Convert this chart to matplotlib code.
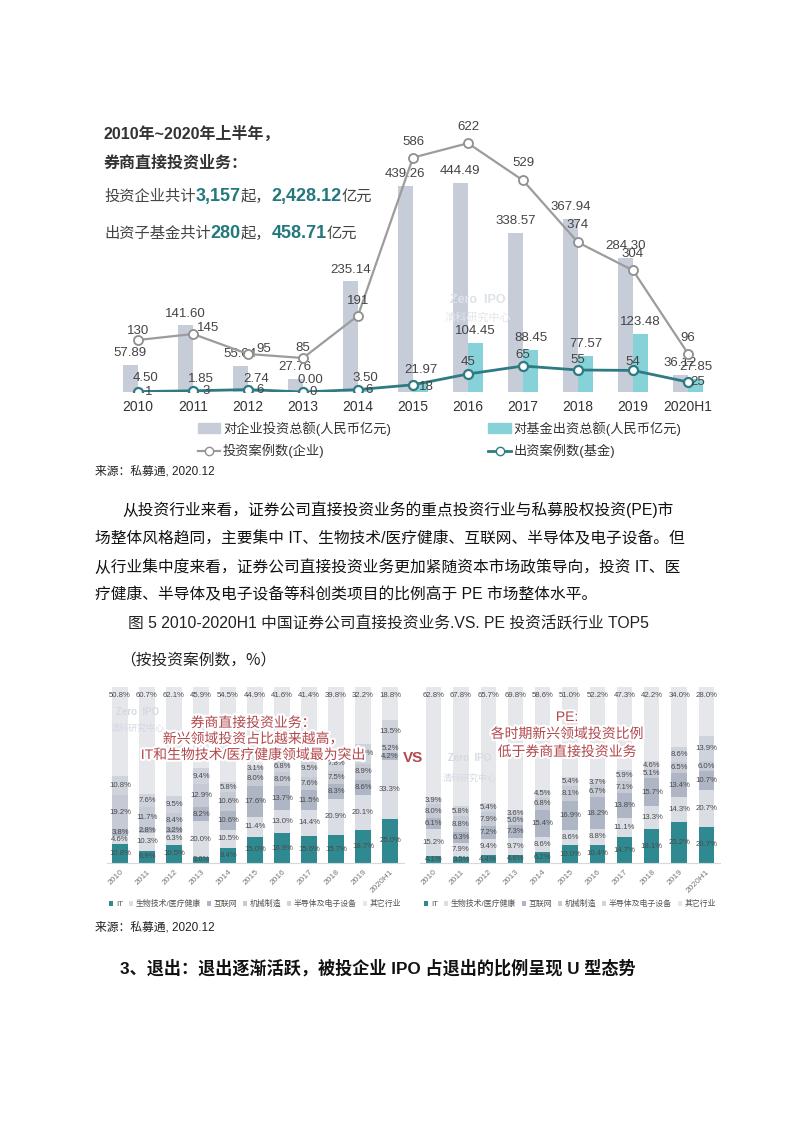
import numpy as np
import matplotlib.pyplot as plt
import matplotlib.patheffects as pe
from matplotlib.lines import Line2D
from matplotlib.patches import Patch

plt.rcParams['font.family'] = ['Liberation Sans', 'Noto Sans CJK SC', 'DejaVu Sans']

# top chart: broker direct investment, 2010 - 2020H1
years = ['2010', '2011', '2012', '2013', '2014', '2015', '2016', '2017', '2018', '2019', '2020H1']
corp_amount = [57.89, 141.60, 55.04, 27.76, 235.14, 439.26, 444.49, 338.57, 367.94, 284.30, 36.12]
fund_amount = [4.50, 1.85, 2.74, 0.00, 3.50, 21.97, 104.45, 88.45, 77.57, 123.48, 27.85]
corp_cases = [130, 145, 95, 85, 191, 586, 622, 529, 374, 304, 96]
fund_cases = [1, 3, 6, 0, 6, 18, 45, 65, 55, 54, 25]

# bottom charts: share of cases by industry (%), rows follow `industries`
industries = ['IT', '生物技术/医疗健康', '互联网', '机械制造', '半导体及电子设备', '其它行业']
broker_share = [
    [10.8, 6.9, 10.5, 3.6, 8.4, 15.0, 16.9, 15.6, 15.7, 18.7, 25.0],
    [4.6, 10.3, 6.3, 20.0, 10.5, 11.4, 13.0, 14.4, 20.9, 20.1, 33.3],
    [3.8, 2.8, 3.2, 8.2, 10.6, 17.6, 13.7, 11.5, 8.3, 8.6, 4.2],
    [19.2, 11.7, 8.4, 12.9, 10.6, 8.0, 8.0, 7.6, 7.5, 8.9, 5.2],
    [10.8, 7.6, 9.5, 9.4, 5.8, 3.1, 6.8, 9.5, 7.8, 11.5, 13.5],
    [50.8, 60.7, 62.1, 45.9, 54.5, 44.9, 41.6, 41.4, 39.8, 32.2, 18.8],
]
pe_share = [
    [4.1, 3.5, 4.4, 4.6, 6.2, 10.0, 10.4, 14.7, 19.1, 23.2, 20.7],
    [15.2, 7.9, 9.4, 9.7, 8.6, 8.6, 8.8, 11.1, 13.3, 14.3, 20.7],
    [6.1, 6.3, 7.2, 7.3, 15.4, 16.9, 18.2, 13.8, 15.7, 13.4, 10.7],
    [8.0, 8.8, 7.9, 5.0, 6.8, 8.1, 6.7, 7.1, 5.1, 6.5, 6.0],
    [3.9, 5.8, 5.4, 3.6, 4.5, 5.4, 3.7, 5.9, 4.6, 8.6, 13.9],
    [62.8, 67.8, 65.7, 69.8, 58.6, 51.0, 52.2, 47.3, 42.2, 34.0, 28.0],
]

W, H = 793, 1122
def fx(px): return px / W
def fy(py): return 1 - py / H

fig = plt.figure(figsize=(W / 100, H / 100), dpi=100)
fig.patch.set_facecolor('white')
renderer = fig.canvas.get_renderer()

TEAL = '#23787e'
GRAY_TXT = '#333333'

def rich_line(x_px, y_px, parts):
    # draw text pieces one after another on a shared baseline
    x = fx(x_px)
    for s, kw in parts:
        t = fig.text(x, fy(y_px), s, va='baseline', ha='left', **kw)
        bb = t.get_window_extent(renderer=renderer)
        x += bb.width / fig.bbox.width

# ---------------- top chart ----------------
ax = fig.add_axes([fx(110.5), fy(392), 605 / W, 270 / H])
x = np.arange(len(years))
bw = 0.28
ax.bar(x - bw / 2, corp_amount, bw, color='#c6ccd8', zorder=1)
ax.bar(x + bw / 2, fund_amount, bw, color='#86d2d8', zorder=1)
ax.set_xlim(-0.5, 10.5)
ax.set_ylim(0, 270 / 0.47)
for i in range(len(years)):
    ax.annotate('%.2f' % corp_amount[i], (x[i] - bw / 2, corp_amount[i]), xytext=(0, 8.6),
                textcoords='offset points', ha='center', va='center', fontsize=9.5, color='#444444')
    ax.annotate('%.2f' % fund_amount[i], (x[i] + bw / 2, fund_amount[i]), xytext=(0, 8.6),
                textcoords='offset points', ha='center', va='center', fontsize=9.5, color='#444444')
ax.set_xticks(x, years, fontsize=10, color=GRAY_TXT)
ax.tick_params(length=0, pad=6)
ax.set_yticks([])
for s in ax.spines.values():
    s.set_visible(False)

ax2 = ax.twinx()
ax2.set_ylim(0, 270 / 0.40)
ax2.plot(x, corp_cases, color='#9c9c9c', lw=1.6, marker='o', ms=6.5, mfc='white', mec='#8f8f8f', mew=1.3, zorder=3)
ax2.plot(x, fund_cases, color='#2e7b83', lw=2.0, marker='o', ms=6.5, mfc='white', mec='#2e7b83', mew=1.6, zorder=3)
corp_off = [(0, 9), (15, 6), (16, 5), (0, 10), (0, 15), (0, 16), (0, 16), (0, 17), (0, 17), (0, 16), (0, 16)]
fund_off = [(11, 0), (13, 0), (12, 0), (10, 0), (11, 0), (13, -2), (0, 12), (0, 11), (0, 10), (0, 8), (10, 0)]
for i in range(len(years)):
    dx, dy = corp_off[i]
    ax2.annotate(str(corp_cases[i]), (x[i], corp_cases[i]), xytext=(dx * 0.72, dy * 0.72),
                 textcoords='offset points', ha='center', va='center', fontsize=9.5, color='#444444')
    dx, dy = fund_off[i]
    ax2.annotate(str(fund_cases[i]), (x[i], fund_cases[i]), xytext=(dx * 0.72, dy * 0.72),
                 textcoords='offset points', ha='center', va='center', fontsize=9.5, color='#444444')
ax2.set_yticks([])
for s in ax2.spines.values():
    s.set_visible(False)

# watermark
fig.text(fx(478), fy(300), 'Zero  IPO', fontsize=9, color='#dde2ea', ha='center', va='center', weight='bold', zorder=0)
fig.text(fx(478), fy(318), '清科研究中心', fontsize=8, color='#e2e6ec', ha='center', va='center', zorder=0)

handles = [Patch(color='#c6ccd8'),
           Line2D([], [], color='#9c9c9c', lw=1.6, marker='o', ms=6, mfc='white', mec='#8f8f8f'),
           Patch(color='#86d2d8'),
           Line2D([], [], color='#2e7b83', lw=2.0, marker='o', ms=6, mfc='white', mec='#2e7b83')]
labels = ['对企业投资总额(人民币亿元)', '投资案例数(企业)', '对基金出资总额(人民币亿元)', '出资案例数(基金)']
fig.legend(handles, labels, ncol=2, loc='upper left', bbox_to_anchor=(fx(186), fy(409)), frameon=False,
           fontsize=9.5, handlelength=1.7, handleheight=0.8, handletextpad=0.2, columnspacing=7.4,
           labelspacing=0.65, labelcolor=GRAY_TXT)

# headline block
fig.text(fx(104), fy(134), '2010年~2020年上半年，', fontsize=11.5, weight='bold', color=GRAY_TXT, va='center')
fig.text(fx(104), fy(163), '券商直接投资业务：', fontsize=11.5, weight='bold', color=GRAY_TXT, va='center')
num_kw = dict(fontsize=13, weight='bold', color=TEAL)
txt_kw = dict(fontsize=11, color='#444444')
rich_line(104, 201, [('投资企业共计', txt_kw), ('3,157', num_kw), ('起，', txt_kw),
                     ('2,428.12', num_kw), ('亿元', txt_kw)])
rich_line(104, 238, [('出资子基金共计', txt_kw), ('280', num_kw), ('起，', txt_kw),
                     ('458.71', num_kw), ('亿元', txt_kw)])

fig.text(fx(95), fy(472), '来源：私募通, 2020.12', fontsize=8.5, color='#222222', va='center')

# ---------------- body text ----------------
body = ['从投资行业来看，证券公司直接投资业务的重点投资行业与私募股权投资(PE)市',
        '场整体风格趋同，主要集中 IT、生物技术/医疗健康、互联网、半导体及电子设备。但',
        '从行业集中度来看，证券公司直接投资业务更加紧随资本市场政策导向，投资 IT、医',
        '疗健康、半导体及电子设备等科创类项目的比例高于 PE 市场整体水平。']
body_x = [122, 95, 95, 95]
body_y = [510, 539, 567, 595]
for s, bx, by in zip(body, body_x, body_y):
    fig.text(fx(bx), fy(by), s, fontsize=11.3, color='#111111', va='center')
fig.text(fx(128), fy(624), '图 5 2010-2020H1 中国证券公司直接投资业务.VS. PE 投资活跃行业 TOP5',
         fontsize=11.3, color='#222222', va='center')
fig.text(fx(120), fy(660), '（按投资案例数，%）', fontsize=11.3, color='#222222', va='center',
         family=['Noto Sans CJK SC'])

# ---------------- bottom stacked charts ----------------
ind_colors = ['#2e8a90', '#dadde3', '#aeb6c6', '#c5cad5', '#cfd3db', '#e5e7eb']

def stack_chart(left_px, width_px, shares):
    a = fig.add_axes([fx(left_px), fy(863), width_px / W, 176 / H])
    xs = np.arange(len(years))
    bottom = np.zeros(len(years))
    for k, row in enumerate(shares):
        row = np.array(row)
        a.bar(xs, row, 0.56, bottom=bottom, color=ind_colors[k], label=industries[k])
        for i, v in enumerate(row):
            yy = bottom[i] + v / 2 if k < 5 else 95
            a.text(xs[i], yy, '%.1f%%' % v, ha='center', va='center', fontsize=5.6, color='#4a4a4a')
        bottom += row
    a.set_xlim(-0.5, 10.5)
    a.set_ylim(0, 100)
    a.set_yticks([])
    a.set_xticks(xs, years, rotation=45, ha='right', rotation_mode='anchor', fontsize=6, color='#777777')
    a.tick_params(length=0, pad=4)
    for s in ['top', 'left', 'right']:
        a.spines[s].set_visible(False)
    a.spines['bottom'].set_color('#d8d8d8')
    a.legend(ncol=6, loc='center', bbox_to_anchor=(0.5, -41 / 176), frameon=False, fontsize=5.7,
             handlelength=0.55, handleheight=0.55, handletextpad=0.3, columnspacing=0.75, labelcolor='#555555')
    return a

stack_chart(106.5, 297, broker_share)
stack_chart(420, 300, pe_share)

red = '#b2474c'
halo = [pe.withStroke(linewidth=3, foreground='white')]
for s, yy in zip(['券商直接投资业务：', '新兴领域投资占比越来越高，', 'IT和生物技术/医疗健康领域最为突出'], [723, 739, 755]):
    fig.text(fx(253), fy(yy), s, fontsize=10, color=red, ha='center', va='center', path_effects=halo)
for s, yy in zip(['PE:', '各时期新兴领域投资比例', '低于券商直接投资业务'], [717, 734, 752]):
    fig.text(fx(567), fy(yy), s, fontsize=10, color=red, ha='center', va='center', path_effects=halo)
fig.text(fx(413), fy(758), 'VS', fontsize=11, weight='bold', color=red, ha='center', va='center')

fig.text(fx(138), fy(712), 'Zero  IPO', fontsize=7, color='#d4dae4', ha='center', va='center', weight='bold')
fig.text(fx(138), fy(728), '清科研究中心', fontsize=6.5, color='#d4dae4', ha='center', va='center')
fig.text(fx(470), fy(758), 'Zero  IPO', fontsize=7, color='#d4dae4', ha='center', va='center', weight='bold')
fig.text(fx(470), fy(778), '清科研究中心', fontsize=6.5, color='#d4dae4', ha='center', va='center')

fig.text(fx(95), fy(928), '来源：私募通, 2020.12', fontsize=8.5, color='#222222', va='center')
fig.text(fx(120), fy(968), '3、退出：退出逐渐活跃，被投企业 IPO 占退出的比例呈现 U 型态势',
         fontsize=12.3, weight='bold', color='#111111', va='center')

fig.savefig('out.png', dpi=100)
